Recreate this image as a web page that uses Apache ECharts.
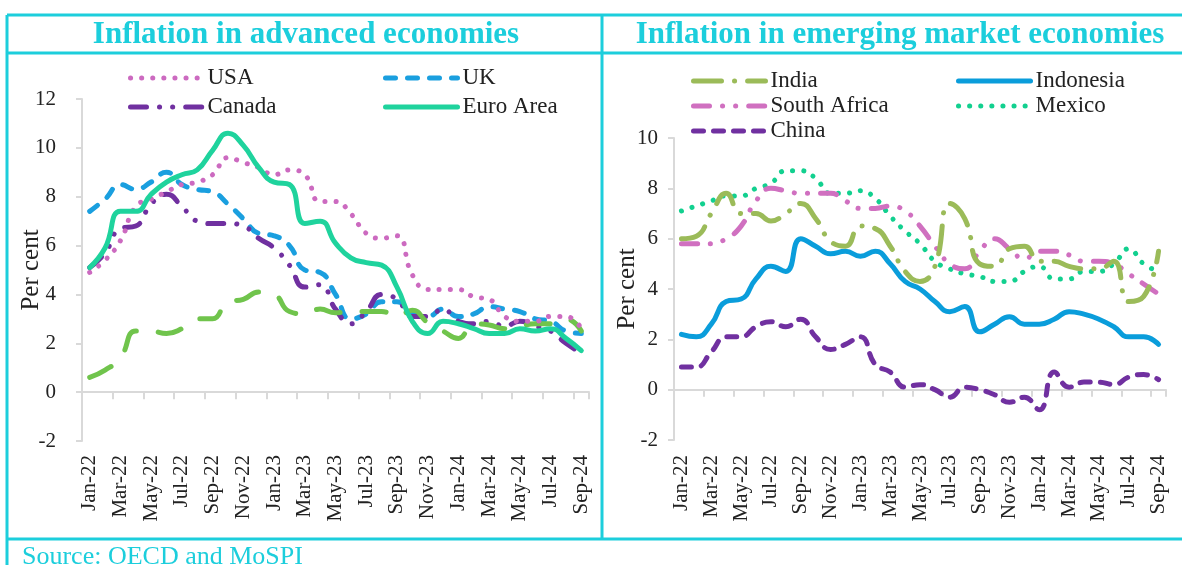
<!DOCTYPE html>
<html>
<head>
<meta charset="utf-8">
<title>Inflation in advanced and emerging market economies</title>
<script src="https://cdn.jsdelivr.net/npm/echarts@6/dist/echarts.min.js"></script>
<style>
  html, body { margin: 0; padding: 0; background: #fff; }
  #chart { width: 1182px; height: 565px; }
</style>
</head>
<body>
<div id="chart"></div>
<script>
// months on the category axis
var months = [
  'Jan-22', 'Feb-22', 'Mar-22', 'Apr-22', 'May-22', 'Jun-22', 'Jul-22', 'Aug-22', 'Sep-22', 'Oct-22', 'Nov-22', 'Dec-22',
  'Jan-23', 'Feb-23', 'Mar-23', 'Apr-23', 'May-23', 'Jun-23', 'Jul-23', 'Aug-23', 'Sep-23', 'Oct-23', 'Nov-23', 'Dec-23',
  'Jan-24', 'Feb-24', 'Mar-24', 'Apr-24', 'May-24', 'Jun-24', 'Jul-24', 'Aug-24', 'Sep-24'
];

// advanced economies (per cent)
var usa = [4.9, 5.4, 6.2, 7.6, 7.9, 8.2, 8.5, 8.6, 8.9, 9.6, 9.4, 9.2, 8.9, 9.1, 8.9, 7.8, 7.8, 7.3, 6.5, 6.3, 6.4, 4.8, 4.2, 4.2, 4.2, 3.9, 3.8, 3.1, 2.9, 2.9, 3.1, 3.1, 2.6];
var uk = [7.4, 7.9, 8.5, 8.3, 8.6, 9.0, 8.5, 8.3, 8.2, 7.7, 7.1, 6.5, 6.4, 6.0, 5.0, 4.9, 4.0, 3.0, 3.2, 3.7, 3.7, 3.2, 3.1, 3.4, 3.1, 3.2, 3.5, 3.4, 3.3, 3.0, 2.9, 2.5, 2.4];
var canada = [5.1, 5.7, 6.7, 6.8, 7.7, 8.1, 7.6, 7.0, 6.9, 6.9, 6.8, 6.3, 5.9, 5.2, 4.3, 4.4, 3.4, 2.8, 3.3, 4.0, 3.8, 3.1, 3.1, 3.4, 2.9, 2.8, 2.9, 2.7, 2.9, 2.7, 2.5, 2.0, 1.6];
var euroArea = [5.1, 5.9, 7.4, 7.4, 8.1, 8.6, 8.9, 9.1, 9.9, 10.6, 10.1, 9.2, 8.6, 8.5, 6.9, 7.0, 6.1, 5.5, 5.3, 5.2, 4.3, 2.9, 2.4, 2.9, 2.8, 2.6, 2.4, 2.4, 2.6, 2.5, 2.6, 2.2, 1.7];
var otherAdvanced = [0.6, 0.9, 1.4, 2.5, 2.5, 2.4, 2.6, 3.0, 3.0, 3.7, 3.8, 4.1, 4.0, 3.3, 3.2, 3.4, 3.25, 3.3, 3.3, 3.3, 3.1, 3.35, 2.85, 2.5, 2.2, 2.8, 2.75, 2.6, 2.7, 2.8, 2.8, 3.0, 2.5];

// emerging market economies (per cent)
var india = [6.0, 6.1, 7.0, 7.8, 7.0, 7.0, 6.7, 7.0, 7.4, 6.8, 5.9, 5.7, 6.5, 6.4, 5.7, 4.7, 4.3, 4.9, 7.4, 6.8, 5.0, 4.9, 5.6, 5.7, 5.1, 5.1, 4.9, 4.8, 4.8, 5.1, 3.5, 3.7, 5.5];
var indonesia = [2.2, 2.1, 2.6, 3.5, 3.6, 4.4, 4.9, 4.7, 6.0, 5.7, 5.4, 5.5, 5.3, 5.5, 5.0, 4.3, 4.0, 3.5, 3.1, 3.3, 2.3, 2.6, 2.9, 2.6, 2.6, 2.8, 3.1, 3.0, 2.8, 2.5, 2.1, 2.1, 1.8];
var southAfrica = [5.8, 5.8, 5.8, 6.0, 6.5, 7.5, 8.0, 7.9, 7.8, 7.8, 7.8, 7.5, 7.2, 7.2, 7.3, 7.1, 6.5, 5.7, 5.0, 4.8, 5.5, 6.0, 5.6, 5.2, 5.5, 5.5, 5.35, 5.1, 5.1, 5.0, 4.6, 4.2, 3.8];
var mexico = [7.1, 7.3, 7.5, 7.7, 7.7, 8.0, 8.2, 8.7, 8.7, 8.4, 7.8, 7.8, 7.9, 7.6, 6.9, 6.3, 5.8, 5.1, 4.8, 4.6, 4.5, 4.3, 4.3, 4.7, 4.9, 4.4, 4.4, 4.7, 4.7, 5.0, 5.6, 5.0, 4.7];
var china = [0.9, 0.9, 1.5, 2.1, 2.1, 2.5, 2.7, 2.5, 2.8, 2.1, 1.6, 1.8, 2.1, 1.0, 0.7, 0.1, 0.2, 0.0, -0.3, 0.1, 0.0, -0.2, -0.5, -0.3, -0.8, 0.7, 0.1, 0.3, 0.3, 0.2, 0.5, 0.6, 0.4];

var serif = 'Liberation Serif';
var cyan = '#1ccedc';
var axisGrey = '#d9d9d9';
var inkColor = '#222';

var chart = echarts.init(document.getElementById('chart'));

function lineSeries(name, data, color, dash, xIdx, yIdx) {
  return {
    name: name,
    type: 'line',
    xAxisIndex: xIdx,
    yAxisIndex: yIdx,
    smooth: true,
    symbol: 'none',
    lineStyle: { color: color, width: 5, type: dash, cap: 'round', join: 'round' },
    itemStyle: { color: color },
    data: data
  };
}

// axis at zero with ticks, labels hidden
function zeroAxis(gridIdx) {
  return {
    gridIndex: gridIdx,
    type: 'category',
    data: months,
    boundaryGap: true,
    axisLine: { onZero: true, lineStyle: { color: axisGrey, width: 2 } },
    axisTick: { show: true, interval: 1, length: 7, lineStyle: { color: axisGrey, width: 2 } },
    axisLabel: { show: false },
    splitLine: { show: false }
  };
}

// labels at the bottom of the plot ("low" position)
function labelAxis(gridIdx, margin) {
  return {
    gridIndex: gridIdx,
    type: 'category',
    position: 'bottom',
    data: months,
    boundaryGap: true,
    axisLine: { show: false, onZero: false },
    axisTick: { show: false },
    axisLabel: { interval: 1, rotate: 90, margin: margin, fontSize: 21, fontFamily: serif, color: inkColor },
    splitLine: { show: false }
  };
}

function valueAxis(gridIdx, max, margin, nameGap) {
  return {
    gridIndex: gridIdx,
    type: 'value',
    min: -2,
    max: max,
    interval: 2,
    name: 'Per cent',
    nameLocation: 'middle',
    nameGap: nameGap,
    nameMoveOverlap: false,
    nameTextStyle: { fontSize: 25, fontFamily: serif, color: inkColor },
    axisLine: { show: true, lineStyle: { color: axisGrey, width: 2 } },
    axisTick: { show: true, length: 6, lineStyle: { color: axisGrey, width: 2 } },
    axisLabel: { fontSize: 21, fontFamily: serif, color: inkColor, margin: margin },
    splitLine: { show: false }
  };
}

function legendBlock(names, left, top, gap) {
  return {
    data: names,
    orient: 'vertical',
    left: left,
    top: top,
    padding: 0,
    itemGap: gap,
    itemWidth: 72,
    itemHeight: 14,
    selectedMode: false,
    itemStyle: { opacity: 0 },
    lineStyle: { width: 5, cap: 'round' },
    textStyle: { fontSize: 23, fontFamily: serif, color: inkColor, lineHeight: 24 }
  };
}

function frameLine(x1, y1, x2, y2) {
  return {
    type: 'line',
    shape: { x1: x1, y1: y1, x2: x2, y2: y2 },
    style: { stroke: cyan, lineWidth: 3 },
    silent: true
  };
}

var option = {
  backgroundColor: '#fff',
  animation: false,
  grid: [
    { left: 82, right: 593, top: 99, bottom: 124 },
    { left: 674, right: 16, top: 138, bottom: 125 }
  ],
  xAxis: [zeroAxis(0), labelAxis(0, 14), zeroAxis(1), labelAxis(1, 15)],
  yAxis: [valueAxis(0, 12, 26, 38), valueAxis(1, 10, 16, 34)],
  legend: [
    legendBlock(['USA', 'Canada'], 128, 66, 5),
    legendBlock(['UK', 'Euro Area'], 383, 66, 5),
    legendBlock(['India', 'South Africa', 'China'], 691, 69, 1),
    legendBlock(['Indonesia', 'Mexico'], 956, 69, 1)
  ],
  graphic: [
    frameLine(7, 15, 1182, 15),
    frameLine(7, 53, 1182, 53),
    frameLine(7, 15, 7, 565),
    frameLine(602, 15, 602, 539),
    frameLine(7, 539, 1182, 539),
    {
      type: 'text',
      x: 306, y: 35,
      style: { text: 'Inflation in advanced economies', fill: cyan, font: 'bold 31px "Liberation Serif"', textAlign: 'center', textVerticalAlign: 'middle' }
    },
    {
      type: 'text',
      x: 900, y: 35,
      style: { text: 'Inflation in emerging market economies', fill: cyan, font: 'bold 31px "Liberation Serif"', textAlign: 'center', textVerticalAlign: 'middle' }
    },
    {
      type: 'text',
      x: 22, y: 544,
      style: { text: 'Source: OECD and MoSPI', fill: cyan, font: '26px "Liberation Serif"', textAlign: 'left', textVerticalAlign: 'top' }
    }
  ],
  series: [
    lineSeries('UK', uk, '#1a9fdf', [10, 12], 0, 0),
    lineSeries('Canada', canada, '#7030a0', [16, 13, 0.1, 13, 0.1, 13], 0, 0),
    lineSeries('Other', otherAdvanced, '#70c44c', [24, 22], 0, 0),
    lineSeries('USA', usa, '#cc6ac0', [0.1, 11], 0, 0),
    lineSeries('Euro Area', euroArea, '#1fd39d', 'solid', 0, 0),

    lineSeries('Mexico', mexico, '#12d08f', [0.1, 11], 2, 1),
    lineSeries('South Africa', southAfrica, '#d070c0', [16, 13, 0.1, 13, 0.1, 13], 2, 1),
    lineSeries('Indonesia', indonesia, '#0a9ddb', 'solid', 2, 1),
    lineSeries('China', china, '#7030a0', [10, 10], 2, 1),
    lineSeries('India', india, '#9bbb59', [28, 13, 0.1, 13], 2, 1)
  ]
};

chart.setOption(option);
</script>
</body>
</html>
